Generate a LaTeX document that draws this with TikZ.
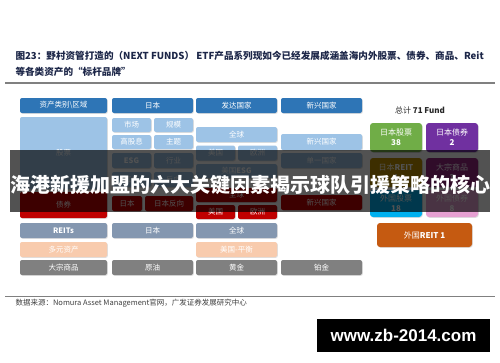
\documentclass[tikz,border=0pt]{standalone}
\usepackage{fontspec}
\setmainfont{Noto Sans CJK SC}
\newfontfamily\latinfont{Liberation Sans}
\usetikzlibrary{shadows}

\definecolor{headblue}{RGB}{46,117,182}
\definecolor{stockblue}{RGB}{157,195,230}
\definecolor{bondred}{RGB}{192,0,0}
\definecolor{reitgray}{RGB}{132,151,176}
\definecolor{multipeach}{RGB}{248,203,173}
\definecolor{commgray}{RGB}{128,128,128}
\definecolor{jpgreen}{RGB}{112,173,71}
\definecolor{jppurple}{RGB}{112,48,160}
\definecolor{reitgold}{RGB}{191,144,0}
\definecolor{commmagenta}{RGB}{150,40,130}
\definecolor{fgncyan}{RGB}{0,176,240}
\definecolor{fgnpink}{RGB}{230,160,210}
\definecolor{reitorange}{RGB}{197,90,17}
\definecolor{titlenavy}{RGB}{28,38,72}

\begin{document}
\begin{tikzpicture}[x=1pt,y=-1pt,
    cell/.style={rounded corners=2pt, inner sep=0pt, minimum height=15pt, minimum width=81pt,
        text=white, font=\fontsize{7.5}{8}\selectfont,
        drop shadow={shadow xshift=0.8pt, shadow yshift=-0.8pt, opacity=0.25}},
    head/.style={cell, fill=headblue},
    stock/.style={cell, fill=stockblue},
    bond/.style={cell, fill=bondred},
    reit/.style={cell, fill=reitgray},
    multi/.style={cell, fill=multipeach},
    comm/.style={cell, fill=commgray},
    fund/.style={cell, minimum width=52pt, minimum height=29pt, align=center, rounded corners=3pt,
        font=\fontsize{8}{10}\selectfont}]
    \fill[white] (0,0) rectangle (500,362);
    \useasboundingbox (0,0) rectangle (500,362);

    % title
    \node[anchor=west, text=titlenavy, font=\fontsize{9.6}{11}\selectfont\bfseries] (title1) at (12,56)
        {图23：野村资管打造的（NEXT FUNDS） ETF产品系列现如今已经发展成涵盖海内外股票、债券、商品、Reit};
    \node[anchor=west, text=titlenavy, font=\fontsize{9.6}{11}\selectfont\bfseries] (title2) at (12,72)
        {等各类资产的“标杆品牌”};
    \draw[line width=1.5pt, gray] (5,83) -- (495,83);

    % header row
    \node[head, minimum width=87pt] (hclass) at (63.5,105.5) {资产类别\textbackslash 区域};
    \node[head] (hjp) at (152.5,105.5) {日本};
    \node[head] (hdev) at (236.5,105.5) {发达国家};
    \node[head] (hem) at (321.5,105.5) {新兴国家};

    % stocks
    \node[stock, minimum width=87pt, minimum height=72pt] (stocks) at (63.5,153) {股票};
    \node[stock, minimum width=39pt, minimum height=14pt] (sjp1) at (131.5,125) {市场};
    \node[stock, minimum width=39pt, minimum height=14pt] (sjp2) at (173.5,125) {规模};
    \node[stock, minimum width=39pt, minimum height=14pt] (sjp3) at (131.5,142) {高股息};
    \node[stock, minimum width=39pt, minimum height=14pt] (sjp4) at (173.5,142) {主题};
    \node[stock, minimum width=39pt] (sjp5) at (131.5,160.5) {\bfseries ESG};
    \node[stock, minimum width=39pt] (sjp6) at (173.5,160.5) {行业};
    \node[stock, minimum width=39pt] (sjp7) at (131.5,179.5) {杠杆};
    \node[stock, minimum width=39pt] (sjp8) at (173.5,179.5) {反向};
    \node[stock] (sdev1) at (236.5,134.5) {全球};
    \node[stock, minimum width=39pt] (sdev2) at (215.5,153) {美国};
    \node[stock, minimum width=39pt] (sdev3) at (257.5,153) {欧洲};
    \node[stock, minimum height=14pt] (sdev4) at (236.5,171) {美国\bfseries ESG};
    \node[stock, minimum height=16pt] (sem1) at (321.5,142) {新兴国家};
    \node[stock] (sem2) at (321.5,160.5) {单一国家};

    % bonds
    \node[bond, minimum width=87pt, minimum height=26pt] (bonds) at (63.5,205) {债券};
    \node[bond, minimum width=30pt] (bjp1) at (127,203.5) {日本};
    \node[bond, minimum width=48pt] (bjp2) at (169,203.5) {日本反向};
    \node[bond, minimum height=14pt] (bdev1) at (236.5,195) {全球};
    \node[bond, minimum width=39pt, minimum height=14pt] (bdev2) at (215.5,212) {美国};
    \node[bond, minimum width=39pt, minimum height=14pt] (bdev3) at (257.5,212) {欧洲};
    \node[bond] (bem1) at (321.5,202.5) {新兴国家};

    % reits, multi asset, commodities
    \node[reit, minimum width=87pt] (reits) at (63.5,230.5) {\bfseries REITs};
    \node[reit] (rjp) at (152.5,230.5) {日本};
    \node[reit] (rdev) at (236.5,230.5) {全球};
    \node[multi, minimum width=87pt] (multi) at (63.5,249.5) {多元资产};
    \node[multi] (mdev) at (236.5,249.5) {美国-平衡};
    \node[comm, minimum width=87pt] (comms) at (63.5,267.5) {大宗商品};
    \node[comm] (cjp) at (152.5,267.5) {原油};
    \node[comm] (cdev) at (236.5,267.5) {黄金};
    \node[comm] (cem) at (321.5,267.5) {铂金};

    % fund count panel
    \node[text=black!85, font=\fontsize{8}{9}\selectfont] (total) at (420,110) {总计 \textbf{71 Fund}};
    \node[fund, fill=jpgreen] (fjpstock) at (396,137.5) {日本股票\\\textbf{38}};
    \node[fund, fill=jppurple] (fjpbond) at (452,137.5) {日本债券\\\textbf{2}};
    \node[fund, fill=reitgold] (fjpreit) at (396,172.5) {日本\textbf{REIT}\\\textbf{1}};
    \node[fund, fill=commmagenta] (fcomm) at (452,172.5) {大宗商品\\\textbf{3}};
    \node[fund, fill=fgncyan, minimum height=27pt] (ffgnstock) at (396,203.5) {外国股票\\\textbf{18}};
    \node[fund, fill=fgnpink, minimum height=27pt] (ffgnbond) at (452,203.5) {外国债券\\\textbf{8}};
    \node[fund, fill=reitorange, minimum width=95pt, minimum height=24pt] (ffgnreit) at (424.5,235) {外国\textbf{REIT 1}};

    % source
    \draw[line width=0.6pt, gray] (5,296.5) -- (495,296.5);
    \node[anchor=west, text=black!75, font=\fontsize{7.5}{8}\selectfont] (source) at (12,303)
        {数据来源：Nomura Asset Management官网，广发证券发展研究中心};

    % banner
    \fill[black, opacity=0.68] (10,150) rectangle (490,212);
    \node[text=white, font=\fontsize{20}{22}\selectfont\bfseries] (headline) at (250,185)
        {海港新援加盟的六大关键因素揭示球队引援策略的核心};

    % watermark
    \fill[black] (317,319) rectangle (490,352);
    \node[text=white, font=\latinfont\fontsize{17}{18}\selectfont\bfseries] (site) at (403.5,335.5) {www.zb-2014.com};
\end{tikzpicture}
\end{document}
